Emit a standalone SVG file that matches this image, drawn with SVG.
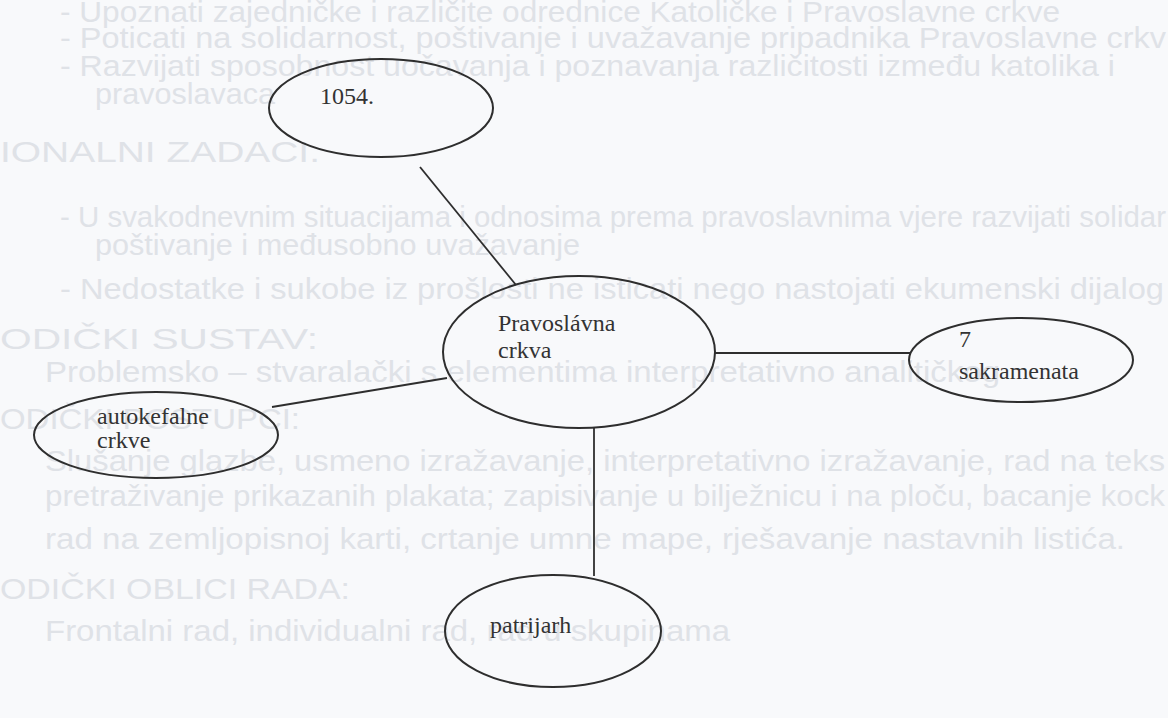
<svg xmlns="http://www.w3.org/2000/svg" width="1168" height="718" viewBox="0 0 1168 718">
<style>
.bg{font-family:"Liberation Sans",Arial,sans-serif;font-size:29px;fill:#dfe2e7}
.bg .h{font-size:30px}
.node ellipse{fill:none;stroke:#2e2e2e;stroke-width:2}
.lbl{font-family:"Liberation Serif","Times New Roman",serif;font-size:24px;fill:#333}
.conn line{stroke:#2e2e2e;stroke-width:1.8}
</style>
<rect x="0" y="0" width="1168" height="718" fill="#f8f9fb"/>
<g id="background-text" class="bg">
<text x="60" y="22" textLength="1000" lengthAdjust="spacingAndGlyphs">- Upoznati zajedničke i različite odrednice Katoličke i Pravoslavne crkve</text>
<text x="60" y="48" textLength="1106" lengthAdjust="spacingAndGlyphs">- Poticati na solidarnost, poštivanje i uvažavanje pripadnika Pravoslavne crkv</text>
<text x="60" y="76" textLength="1055" lengthAdjust="spacingAndGlyphs">- Razvijati sposobnost uočavanja i poznavanja različitosti između katolika i</text>
<text x="95" y="104" textLength="180" lengthAdjust="spacingAndGlyphs">pravoslavaca</text>
<text class="h" x="0" y="162" textLength="320" lengthAdjust="spacingAndGlyphs">IONALNI ZADACI.</text>
<text x="60" y="227" textLength="1106" lengthAdjust="spacingAndGlyphs">- U svakodnevnim situacijama i odnosima prema pravoslavnima vjere razvijati solidar</text>
<text x="95" y="255" textLength="485" lengthAdjust="spacingAndGlyphs">poštivanje i međusobno uvažavanje</text>
<text x="60" y="299" textLength="1104" lengthAdjust="spacingAndGlyphs">- Nedostatke i sukobe iz prošlosti ne isticati nego nastojati ekumenski dijalog</text>
<text class="h" x="0" y="349" textLength="318" lengthAdjust="spacingAndGlyphs">ODIČKI SUSTAV:</text>
<text x="45" y="382" textLength="955" lengthAdjust="spacingAndGlyphs">Problemsko – stvaralački s elementima interpretativno analitičkog</text>
<text class="h" x="0" y="429" textLength="300" lengthAdjust="spacingAndGlyphs">ODIČKI POSTUPCI:</text>
<text x="45" y="471" textLength="1120" lengthAdjust="spacingAndGlyphs">Slušanje glazbe, usmeno izražavanje, interpretativno izražavanje, rad na teks</text>
<text x="45" y="506" textLength="1120" lengthAdjust="spacingAndGlyphs">pretraživanje prikazanih plakata; zapisivanje u bilježnicu i na ploču, bacanje kock</text>
<text x="45" y="549" textLength="1080" lengthAdjust="spacingAndGlyphs">rad na zemljopisnoj karti, crtanje umne mape, rješavanje nastavnih listića.</text>
<text class="h" x="0" y="599" textLength="350" lengthAdjust="spacingAndGlyphs">ODIČKI OBLICI RADA:</text>
<text x="45" y="641" textLength="685" lengthAdjust="spacingAndGlyphs">Frontalni rad, individualni rad, rad u skupinama</text>
</g>
<g id="connectors" class="conn">
<line x1="420" y1="167" x2="516" y2="285"/>
<line x1="715" y1="353" x2="911" y2="353"/>
<line x1="272" y1="407" x2="447" y2="378"/>
<line x1="594" y1="428" x2="594" y2="576"/>
</g>
<g id="node-1054" class="node">
<ellipse cx="381" cy="108" rx="112" ry="49"/>
<text class="lbl" x="320" y="104">1054.</text>
</g>
<g id="node-pravoslavna" class="node">
<ellipse cx="579" cy="352" rx="136" ry="76"/>
<text class="lbl" x="498" y="331">Pravoslávna</text>
<text class="lbl" x="498" y="358">crkva</text>
</g>
<g id="node-sakramenata" class="node">
<ellipse cx="1021" cy="360" rx="112" ry="42"/>
<text class="lbl" x="959" y="347">7</text>
<text class="lbl" x="959" y="379">sakramenata</text>
</g>
<g id="node-autokefalne" class="node">
<ellipse cx="156" cy="435" rx="122" ry="43"/>
<text class="lbl" x="97" y="424">autokefalne</text>
<text class="lbl" x="97" y="448">crkve</text>
</g>
<g id="node-patrijarh" class="node">
<ellipse cx="553" cy="631" rx="108" ry="56"/>
<text class="lbl" x="490" y="633">patrijarh</text>
</g>
</svg>
